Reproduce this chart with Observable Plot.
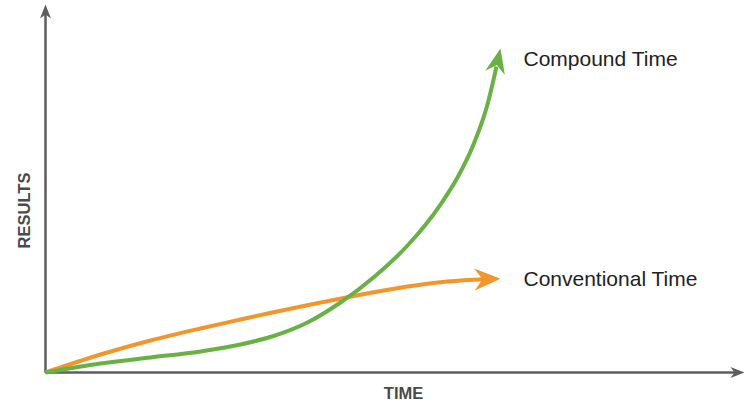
<!DOCTYPE html>
<html>
<head>
<meta charset="utf-8">
<script src="https://cdn.jsdelivr.net/npm/d3@7"></script>
<script src="https://cdn.jsdelivr.net/npm/@observablehq/plot@0.6"></script>
<style>
  html, body { margin: 0; padding: 0; background: #fff; }
  #chart svg { display: block; }
</style>
</head>
<body>
<div id="chart"></div>
<script>
// ---- Data (arbitrary units 0–100) ----
const seriesNames = ["Compound Time", "Conventional Time"];
const compoundTime    = [0, 7.87, 15.02, 22.17, 27.90, 32.62, 37.48, 42.20, 46.92, 51.79, 56.51, 58.94, 61.23, 63.23, 64.52, 65.09];
const compoundResults = [0, 2.45, 4.08, 5.71, 7.61, 9.92, 13.59, 19.02, 25.82, 34.51, 45.65, 52.99, 61.96, 72.83, 83.15, 88.04];
const conventionalTime    = [0, 7.87, 15.02, 22.17, 27.90, 32.62, 37.48, 43.92, 46.92, 51.79, 56.51, 61.23, 62.95, 65.09];
const conventionalResults = [0, 4.89, 8.70, 11.96, 14.40, 16.39, 18.29, 20.73, 21.79, 23.37, 24.54, 25.19, 25.35, 25.46];
const axisExtent = [0, 100];
const xAxisLabel = "TIME";
const yAxisLabel = "RESULTS";

// ---- Layout & style ----
const W = 746, H = 402;
const ML = 45, MR = 2, MT = 4, MB = 30;
const GREEN = "#69b045", ORANGE = "#f0962b", AXIS = "#5e5e5e", INK = "#222";
const FONT = "'Liberation Sans', Arial, Helvetica, sans-serif";

const xs = Plot.scale({x: {domain: axisExtent, range: [ML, W - MR]}});
const ys = Plot.scale({y: {domain: axisExtent, range: [H - MB, MT]}});

function makeRows(name, T, R) {
  return T.map((t, i) => ({series: name, t, r: R[i]}));
}
const compound = makeRows(seriesNames[0], compoundTime, compoundResults);
const conventional = makeRows(seriesNames[1], conventionalTime, conventionalResults);

// angle (deg, clockwise from "up") of the segment a->b in pixel space
function headAngle(a, b) {
  const dx = xs.apply(b.t) - xs.apply(a.t);
  const dy = ys.apply(b.r) - ys.apply(a.r);
  return Math.atan2(dx, -dy) * 180 / Math.PI;
}
function tipOf(rows) {
  const n = rows.length;
  return {...rows[n - 1], angle: headAngle(rows[n - 2], rows[n - 1])};
}
const compoundTip = tipOf(compound);
const conventionalTip = tipOf(conventional);

// filled, notched arrowhead symbol pointing up with tip at origin
function arrowHead(len, wid, notch) {
  return {
    draw(ctx) {
      ctx.moveTo(0, 0);
      ctx.lineTo(wid / 2, len);
      ctx.lineTo(0, len - notch);
      ctx.lineTo(-wid / 2, len);
      ctx.closePath();
    }
  };
}

// axes: one polyline from the y tip through the origin to the x tip,
// shortened a little so the shafts end inside the arrowheads
const xMax = axisExtent[1], yMax = axisExtent[1];
const xShaftEnd = xs.invert(xs.apply(xMax) - 8);
const yShaftEnd = ys.invert(ys.apply(yMax) + 8);
const axisPath = [
  {t: axisExtent[0], r: yShaftEnd},
  {t: axisExtent[0], r: axisExtent[0]},
  {t: xShaftEnd, r: axisExtent[0]}
];
const axisTips = [
  {t: xMax, r: axisExtent[0], angle: 90},
  {t: axisExtent[0], r: yMax, angle: 0}
];

const chart = Plot.plot({
  width: W,
  height: H,
  marginLeft: ML, marginRight: MR, marginTop: MT, marginBottom: MB,
  x: {domain: axisExtent, axis: null},
  y: {domain: axisExtent, axis: null},
  style: {fontFamily: FONT, background: "#fff"},
  marks: [
    Plot.line(axisPath, {x: "t", y: "r", stroke: AXIS, strokeWidth: 2.5, strokeLinejoin: "miter", strokeLinecap: "butt"}),
    Plot.dot(axisTips, {x: "t", y: "r", rotate: "angle", symbol: arrowHead(14, 11, 4), fill: AXIS, stroke: "none"}),

    Plot.line(conventional.slice(0, -1), {x: "t", y: "r", stroke: ORANGE, strokeWidth: 4, curve: "monotone-x", strokeLinecap: "butt"}),
    Plot.line(compound.slice(0, -1), {x: "t", y: "r", stroke: GREEN, strokeWidth: 4, curve: "monotone-x", strokeLinecap: "butt"}),
    Plot.dot([conventionalTip], {x: "t", y: "r", rotate: "angle", symbol: arrowHead(26, 22, 8), fill: ORANGE, stroke: "none"}),
    Plot.dot([compoundTip], {x: "t", y: "r", rotate: "angle", symbol: arrowHead(25, 20, 8), fill: GREEN, stroke: "none"}),

    Plot.text([compoundTip], {x: "t", y: "r", text: "series", textAnchor: "start", dx: 23, dy: 11, fontSize: 21, fill: INK}),
    Plot.text([conventionalTip], {x: "t", y: "r", text: "series", textAnchor: "start", dx: 23, dy: 0.5, fontSize: 21, fill: INK}),

    Plot.text([xAxisLabel], {frameAnchor: "bottom", lineAnchor: "bottom", textAnchor: "middle", dx: 8.5, dy: 26, fontSize: 16.5, fontWeight: "bold", fill: "#4a4a4a"}),
    Plot.text([yAxisLabel], {frameAnchor: "left", lineAnchor: "middle", textAnchor: "middle", rotate: -90, dx: -21, dy: 22, fontSize: 16.5, fontWeight: "bold", fill: "#4a4a4a"})
  ]
});
document.getElementById("chart").appendChild(chart);
</script>
</body>
</html>
